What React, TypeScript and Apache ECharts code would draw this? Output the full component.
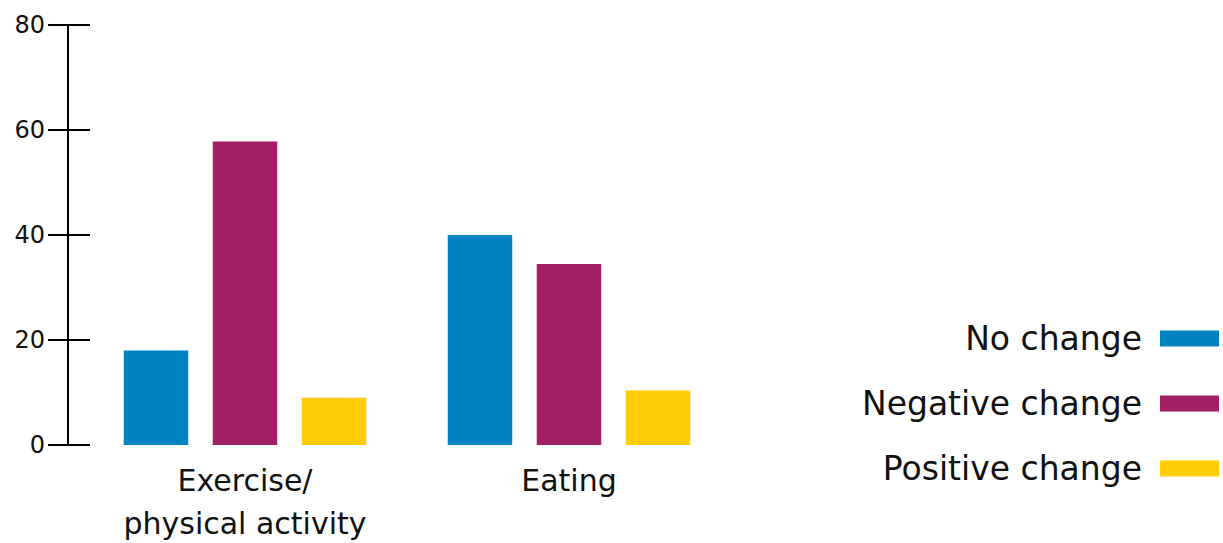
import React, { useEffect, useRef } from "react";
import * as echarts from "echarts";

const categories = ["Exercise/\nphysical activity", "Eating"];
const seriesNames = ["No change", "Negative change", "Positive change"];
const noChange = [18, 40];
const negativeChange = [57.8, 34.5];
const positiveChange = [9, 10.4];
const yTicks = [0, 20, 40, 60, 80];
const colors = ["#0083C1", "#A31F63", "#FFCC05"];

const FONT = "DejaVu Sans";

export default function App() {
  const ref = useRef<HTMLDivElement>(null);
  useEffect(() => {
    if (!ref.current) return;
    const chart = echarts.init(ref.current, undefined, { renderer: "svg" });
    const values = [noChange, negativeChange, positiveChange];
    chart.setOption({
      animation: false,
      textStyle: { fontFamily: FONT },
      grid: {
        left: 83,
        top: 25,
        width: 648,
        height: 420,
        containLabel: false,
        outerBoundsMode: "none",
      },
      legend: {
        orient: "vertical",
        right: 4,
        top: 321,
        padding: 0,
        align: "right",
        itemWidth: 59,
        itemHeight: 16,
        itemGap: 30,
        icon: "rect",
        data: seriesNames,
        textStyle: {
          fontFamily: FONT,
          fontSize: 33,
          color: "#111",
          lineHeight: 35,
          padding: [0, 13, 0, 0],
        },
      },
      xAxis: {
        type: "category",
        data: categories,
        axisLine: { show: false },
        axisTick: { show: false },
        axisLabel: {
          interval: 0,
          hideOverlap: false,
          fontFamily: FONT,
          fontSize: 30,
          color: "#111",
          lineHeight: 43,
          margin: 14,
        },
      },
      yAxis: [
        {
          type: "value",
          min: yTicks[0],
          max: yTicks[yTicks.length - 1],
          interval: 20,
          offset: 15,
          splitLine: { show: false },
          axisLine: { show: true, lineStyle: { color: "#000", width: 2 } },
          axisTick: { show: true, length: 20, lineStyle: { color: "#000", width: 2 } },
          axisLabel: { fontFamily: FONT, fontSize: 24, color: "#111", margin: 23 },
        },
        {
          type: "value",
          min: yTicks[0],
          max: yTicks[yTicks.length - 1],
          interval: 20,
          offset: 15,
          position: "left",
          splitLine: { show: false },
          axisLine: { show: false },
          axisTick: { show: true, inside: true, length: 22, lineStyle: { color: "#000", width: 2 } },
          axisLabel: { show: false },
        },
      ],
      series: seriesNames.map((name, i) => ({
        name,
        type: "bar",
        data: values[i],
        barWidth: 64.5,
        barGap: "38%",
        itemStyle: { color: colors[i] },
      })),
    });
    return () => chart.dispose();
  }, []);
  return <div ref={ref} style={{ width: 1223, height: 543, position: "absolute", left: 0, top: 0 }} />;
}
